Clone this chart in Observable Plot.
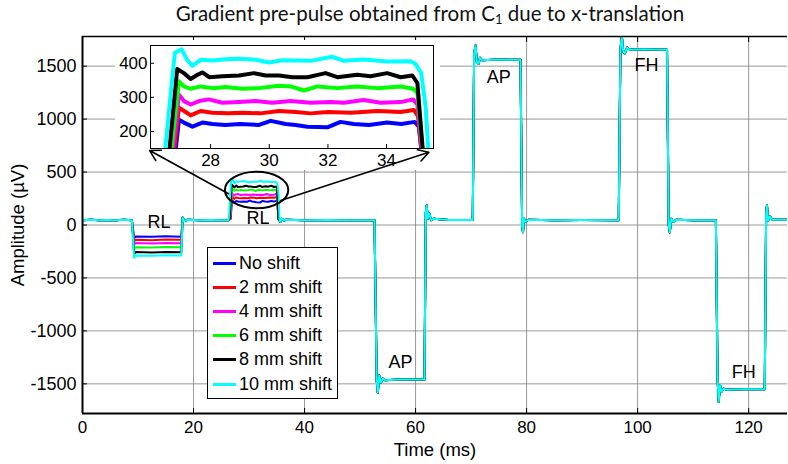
<!DOCTYPE html>
<html><head><meta charset="utf-8">
<script src="https://cdn.jsdelivr.net/npm/d3@7"></script>
<script src="https://cdn.jsdelivr.net/npm/@observablehq/plot@0.6"></script>
<style>
body{margin:0;background:#fff;}
#wrap{position:relative;width:788px;height:464px;overflow:hidden;font-family:"Liberation Sans",Arial,Helvetica,sans-serif;}
#wrap > svg, #wrap > div{position:absolute;}
#wrap svg text{font-family:"Liberation Sans",Arial,Helvetica,sans-serif;}
#title{top:1px;left:0;width:860px;text-align:center;font-family:Lato,"Open Sans",sans-serif;font-size:20.5px;color:#111;}
#title sub{font-size:13px;vertical-align:-3px;line-height:0;}
#legend{left:207px;top:247px;width:129px;height:150px;border:1px solid #000;background:#fff;}
.li{position:absolute;left:5px;height:24px;display:flex;align-items:center;font-size:18px;color:#000;font-family:"Liberation Sans",Arial,sans-serif;}
.sw{width:23px;height:3px;margin-right:3px;}
</style></head><body><div id="wrap"></div>
<script>
// ---------- data ----------
const seriesNames = ["No shift","2 mm shift","4 mm shift","6 mm shift","8 mm shift","10 mm shift"];
const seriesColors = ["#0000ff","#ff0000","#ff00ff","#00ff00","#000000","#00ffff"];

// common waveform before the RL negative lobe [t (ms), amplitude (µV)]
const baseStart = [[0,45],[1.5,50],[3,44],[4.5,48],[6,45],[7.5,49],[8.9,45]];
// RL negative lobe, times and per-series amplitudes
const rlNegT = [9.3, 9.6, 12.5, 15, 17.8];
const rlNegV = [
  [-125,-108,-112,-107,-110],
  [-155,-139,-143,-138,-140],
  [-188,-171,-175,-170,-173],
  [-228,-209,-213,-208,-211],
  [-275,-256,-259,-255,-258],
  [-310,-287,-291,-286,-289]
];
// common waveform between RL lobes
const baseMid = [[18.05,70],[18.35,38],[19,50],[21,44],[23,48],[25,45],[26.3,45]];
// RL positive lobe (seen in the inset), per series
const rlPosBlue = [[26.7,60],[26.92,234],[27.09,226],[27.38,214],[27.72,226],[28.06,222],[28.5,219],[29.0,222],[29.65,219],[30.05,231],[30.56,222],[30.9,219],[31.3,214],[31.98,212],[32.43,228],[32.88,222],[33.4,219],[34.02,226],[34.5,222],[34.96,228],[35.1,214],[35.3,60]];
const rlPosRed = [[26.65,60],[26.92,270],[27.15,257],[27.32,247],[27.66,260],[28.06,255],[28.6,253],[29.1,255],[29.7,253],[30.33,260],[30.9,257],[31.41,253],[32.0,257],[32.8,255],[33.68,260],[34.48,257],[34.93,263],[35.07,245],[35.3,55]];
const rlPosMagenta = [[26.6,60],[26.92,308],[27.09,289],[27.32,279],[27.61,289],[27.94,294],[28.4,284],[28.97,286],[29.53,289],[30.1,284],[30.73,289],[31.41,284],[32.1,286],[32.54,284],[33.22,292],[33.8,284],[34.48,286],[34.91,294],[35.05,279],[35.32,55]];
const rlPosGreen = [[26.55,60],[26.92,347],[27.09,332],[27.32,325],[27.66,332],[28.06,327],[28.51,330],[29.08,325],[29.65,327],[30.33,334],[30.73,332],[31.18,320],[31.64,332],[32.32,327],[33.0,332],[33.68,327],[34.48,332],[34.91,325],[35.05,313],[35.32,55]];
const rlPosBlack = [[26.5,60],[26.86,383],[27.09,371],[27.32,354],[27.55,366],[27.72,373],[27.95,359],[28.4,362],[28.97,364],[29.48,371],[29.88,364],[30.33,364],[30.78,359],[31.3,359],[31.92,371],[32.32,359],[33.0,366],[33.45,362],[34.02,371],[34.48,359],[34.88,364],[35.05,342],[35.32,55]];
const rlPosCyan = [[26.35,60],[26.78,431],[27.01,441],[27.2,410],[27.38,392],[27.66,410],[28.06,408],[28.51,412],[28.97,413],[29.53,410],[30.0,402],[30.44,409],[30.9,408],[31.41,407],[32.14,419],[32.54,407],[33.22,411],[34.02,405],[34.82,406],[34.99,398],[35.18,371],[35.33,274],[35.5,40]];
const rlPos = [rlPosBlue, rlPosRed, rlPosMagenta, rlPosGreen, rlPosBlack, rlPosCyan];
// common waveform after the RL positive lobe (AP and FH lobes)
const baseEnd = [
  [35.65,30],[35.9,58],[36.3,42],[36.7,50],[40,46],[44,48],[48,44],[52.6,46],
  [53.0,-1470],[53.2,-1582],[53.45,-1420],[53.75,-1490],[54.1,-1450],[54.5,-1465],[57,-1458],[61.6,-1460],
  [61.85,120],[62.0,185],[62.2,60],[62.45,110],[62.8,45],[63.3,60],[66,48],[70.3,48],
  [70.55,1620],[70.8,1695],[71.05,1540],[71.35,1522],[71.6,1580],[72,1555],[75,1562],[78.9,1560],
  [79.2,-10],[79.35,-68],[79.55,60],[79.85,30],[80.3,50],[85,45],[90,48],[96.6,46],
  [96.9,1650],[97.15,1790],[97.4,1640],[97.7,1620],[98.1,1675],[98.6,1655],[101,1660],[105.3,1655],
  [105.6,0],[105.8,-70],[106.05,60],[106.4,30],[107,50],[110,45],[114.1,46],
  [114.4,-1450],[114.6,-1670],[114.85,-1510],[115.1,-1575],[115.5,-1545],[116,-1555],[119,-1552],[122.9,-1550],
  [123.15,100],[123.3,185],[123.5,40],[123.8,80],[124.3,50],[127.5,50]
];

// axes
const xDomain = [0, 127];
const yDomain = [-1780, 1780];
const xTicks = [0, 20, 40, 60, 80, 100, 120];
const yTicks = [-1500, -1000, -500, 0, 500, 1000, 1500];
const insetXDomain = [25.95, 35.6];
const insetYDomain = [150, 452];
const insetXTicks = [28, 30, 32, 34];
const insetYTicks = [200, 300, 400];

// annotations
const annLabels = ["RL", "RL", "AP", "AP", "FH", "FH"];
const annT = [13.8, 31.6, 57.3, 75.0, 101.6, 119.1];
const annV = [28, 68, -1300, 1400, 1505, -1390];
const ellipseCenter = [31.45, 326];
const ellipseRadius = [5.71, 173];
const arrowFrom = [[26.3, 295], [35.7, 231]];
const arrowTo = [[12.1, 703], [62.4, 687]];

// ---------- build ----------
const rows = [];
seriesNames.forEach((s, i) => {
  const pts = [
    ...baseStart,
    ...rlNegT.map((t, j) => [t, rlNegV[i][j]]),
    ...baseMid,
    ...rlPos[i],
    ...baseEnd
  ];
  pts.forEach(([t, v]) => rows.push({series: s, t, v}));
});

const font = "'Liberation Sans', Arial, Helvetica, sans-serif";
const fmt = d => String(d);
const wrap = document.getElementById("wrap");
const common = {
  width: 788, height: 464,
  marginLeft: 82, marginRight: 1, marginTop: 36, marginBottom: 51,
  x: {domain: xDomain},
  y: {domain: yDomain},
  color: {domain: seriesNames, range: seriesColors}
};

const main = Plot.plot({
  ...common,
  style: {fontFamily: font, fontSize: "17px", background: "transparent", color: "#000", overflow: "visible"},
  marks: [
    Plot.gridX(xTicks, {stroke: "#808080", strokeOpacity: 0.8}),
    Plot.gridY(yTicks, {stroke: "#808080", strokeOpacity: 0.8}),
    Plot.line(rows, {x: "t", y: "v", z: "series", stroke: "series", strokeWidth: 2, clip: true}),
    Plot.text(annLabels, {x: (d, i) => annT[i], y: (d, i) => annV[i], text: d => d, fontSize: 18, fill: "#000"}),
    Plot.axisX(xTicks, {anchor: "top", tickSize: -5, tickFormat: () => "", label: null}),
    Plot.axisX(xTicks, {anchor: "bottom", tickSize: -5, tickPadding: 12, fontSize: 17, tickFormat: fmt, label: "Time (ms)", labelAnchor: "center", labelArrow: "none", labelOffset: 42}),
    Plot.axisY(yTicks, {anchor: "left", tickSize: -5, tickPadding: 11, fontSize: 18, tickFormat: fmt, label: "Amplitude (µV)", labelAnchor: "center", labelArrow: "none", labelOffset: 72}),
    Plot.ruleX([xDomain[0]], {stroke: "#000", strokeWidth: 2}),
    Plot.ruleY([yDomain[0]], {stroke: "#000", strokeWidth: 2}),
    Plot.ruleY([yDomain[1]], {stroke: "#000", strokeWidth: 1.5})
  ]
});
main.style.left = "0px"; main.style.top = "0px";
main.querySelectorAll("g[aria-label$='axis label']").forEach(n => n.setAttribute("font-size", "18.5"));
wrap.appendChild(main);

const inset = Plot.plot({
  width: 325, height: 130, marginLeft: 35, marginRight: 7, marginTop: 5, marginBottom: 22,
  style: {fontFamily: font, fontSize: "16px", background: "#fff", color: "#000"},
  x: {domain: insetXDomain},
  y: {domain: insetYDomain},
  color: {domain: seriesNames, range: seriesColors},
  marks: [
    Plot.line(rows, {x: "t", y: "v", z: "series", stroke: "series", strokeWidth: 4, strokeLinejoin: "round", clip: true}),
    Plot.axisX(insetXTicks, {anchor: "bottom", tickSize: -4, tickPadding: 9, fontSize: 17, tickFormat: fmt, label: null}),
    Plot.axisY(insetYTicks, {anchor: "left", tickSize: -4, tickPadding: 7, fontSize: 17, tickFormat: fmt, label: null}),
    Plot.frame({stroke: "#000"})
  ]
});
inset.style.left = "115px"; inset.style.top = "40px";
wrap.appendChild(inset);

function ellipseMark(index, scales) {
  const {x, y} = scales;
  const cx = x(ellipseCenter[0]), cy = y(ellipseCenter[1]);
  const rx = Math.abs(x(ellipseCenter[0] + ellipseRadius[0]) - cx);
  const ry = Math.abs(y(ellipseCenter[1] + ellipseRadius[1]) - cy);
  return d3.create("svg:ellipse")
    .attr("cx", cx).attr("cy", cy).attr("rx", rx).attr("ry", ry)
    .attr("fill", "none").attr("stroke", "#000").attr("stroke-width", 2).node();
}

const overlay = Plot.plot({
  ...common,
  style: {background: "transparent", overflow: "visible"},
  axis: null,
  marks: [
    ellipseMark,
    Plot.arrow(arrowFrom, {
      x1: d => d[0], y1: d => d[1],
      x2: (d, i) => arrowTo[i][0], y2: (d, i) => arrowTo[i][1],
      bend: 0, headLength: 11, stroke: "#000", strokeWidth: 1.6
    })
  ]
});
overlay.style.left = "0px"; overlay.style.top = "0px"; overlay.style.pointerEvents = "none";
wrap.appendChild(overlay);

// legend
const legend = document.createElement("div");
legend.id = "legend";
seriesNames.forEach((s, i) => {
  const it = document.createElement("div");
  it.className = "li";
  it.style.top = (3 + i * 24.2) + "px";
  it.innerHTML = `<span class="sw" style="background:${seriesColors[i]}"></span><span>${s}</span>`;
  legend.appendChild(it);
});
wrap.appendChild(legend);

// title
const title = document.createElement("div");
title.id = "title";
title.innerHTML = "Gradient pre-pulse obtained from C<sub>1</sub> due to x-translation";
wrap.appendChild(title);
</script>
</body></html>
